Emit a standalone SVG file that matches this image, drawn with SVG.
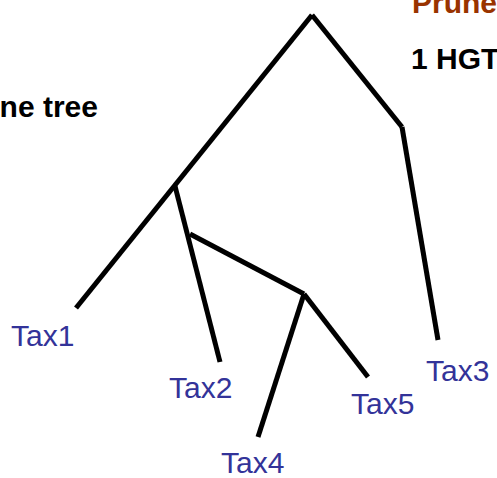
<svg xmlns="http://www.w3.org/2000/svg" width="497" height="478" viewBox="0 0 497 478">
  <style>
    .edge { stroke: #000; stroke-width: 5; stroke-linecap: butt; fill: none; }
    .taxon { font-family: "Liberation Sans", Arial, sans-serif; font-size: 30px; fill: #333399; }
    .note { font-family: "Liberation Sans", Arial, sans-serif; font-size: 30px; font-weight: bold; fill: #000; }
    .title { fill: #993300; }
  </style>
  <rect width="497" height="478" fill="#fff"/>

  <!-- captions -->
  <text class="note title" x="412" y="13">Prune</text>
  <text class="note" x="411" y="69">1 HGT</text>
  <text class="note" x="98" y="117" text-anchor="end">ne tree</text>

  <!-- branches -->
  <g id="edges">
    <line class="edge" x1="312" y1="15" x2="76" y2="308"/>
    <line class="edge" x1="312" y1="15" x2="402" y2="127"/>
    <line class="edge" x1="402" y1="127" x2="438" y2="340"/>
    <line class="edge" x1="175" y1="186" x2="220" y2="362"/>
    <line class="edge" x1="190" y1="234" x2="304" y2="294"/>
    <line class="edge" x1="304" y1="294" x2="258" y2="437"/>
    <line class="edge" x1="304" y1="294" x2="368" y2="377"/>
  </g>

  <!-- leaves -->
  <g id="tax1"><text class="taxon" x="11" y="346">Tax1</text></g>
  <g id="tax2"><text class="taxon" x="169" y="398">Tax2</text></g>
  <g id="tax3"><text class="taxon" x="426" y="381">Tax3</text></g>
  <g id="tax4"><text class="taxon" x="221" y="473">Tax4</text></g>
  <g id="tax5"><text class="taxon" x="351" y="414">Tax5</text></g>
</svg>
